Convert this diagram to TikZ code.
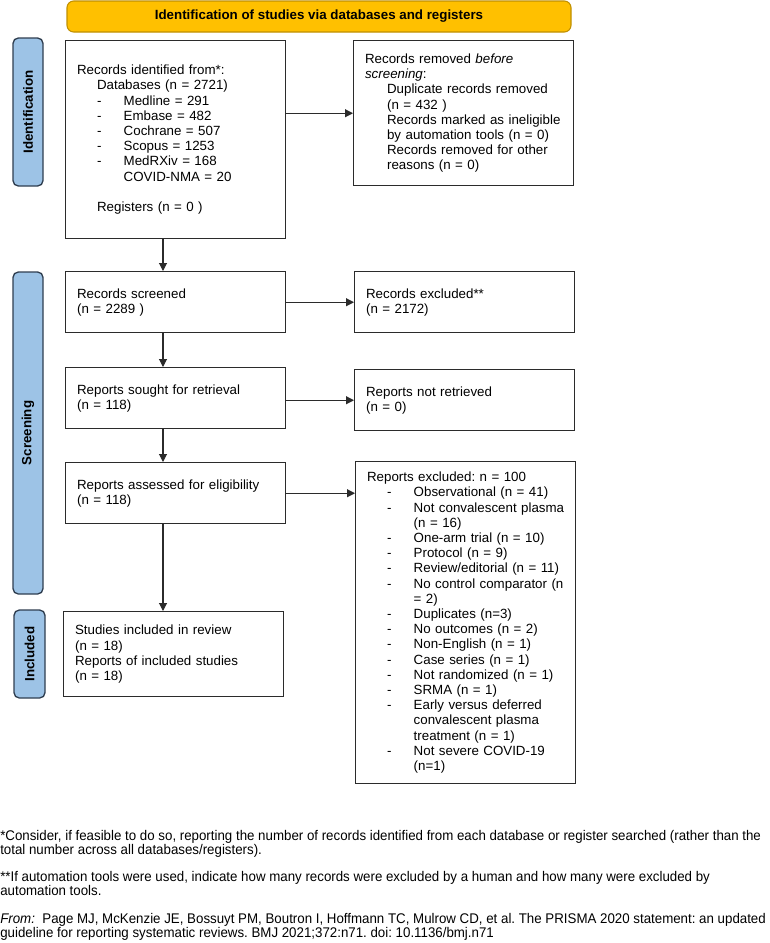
\documentclass[tikz,border=0pt]{standalone}
\usepackage{fontspec}
\setmainfont{Liberation Sans}
\newfontfamily\notefont{Liberation Sans}[FakeStretch=0.95]
\usetikzlibrary{arrows.meta}
\frenchspacing

\definecolor{bannerfill}{HTML}{FFC000}
\definecolor{bannerline}{HTML}{C08F00}
\definecolor{phasefill}{HTML}{9DC3E6}
\definecolor{phaseline}{HTML}{2F3E50}
\definecolor{boxline}{HTML}{2B2B2B}

% list lines inside the boxes
\newcommand{\dashitem}[2][15pt]{\hspace*{#1}\makebox[20pt][l]{-}#2}
\newcommand{\dashcont}[2][35pt]{\hspace*{#1}#2}

\begin{document}
\begin{tikzpicture}[x=0.75pt, y=-0.75pt,
  every node/.style={font=\fontsize{10}{11.4}\selectfont},
  flowbox/.style={draw=boxline, line width=1.1pt, anchor=north west, minimum width=165pt,
    text width=148pt, inner xsep=8.5pt, align=left},
  phase/.style={draw=phaseline, fill=phasefill, line width=1pt, rounded corners=4pt,
    rotate=90, minimum height=22.5pt, font=\fontsize{10}{12}\selectfont\bfseries},
  banner/.style={draw=bannerline, fill=bannerfill, line width=0.8pt, rounded corners=5pt,
    minimum width=378pt, minimum height=23.25pt, font=\fontsize{10}{12}\selectfont\bfseries},
  flow/.style={draw=boxline, line width=0.8pt, -{Triangle[length=6pt,width=6pt]}},
  note/.style={anchor=north west, inner sep=0pt, align=left,
    font=\fontsize{10.5}{10.6}\notefont}]

\useasboundingbox (0,0) rectangle (770,943);

% header
\node[banner] (banner) at (319,16.5) {Identification of studies via databases and registers};

% phases
\node[phase, minimum width=111pt] (phaseid) at (28,112) {Identification};
\node[phase, minimum width=241.5pt] (phasescr) at (28,433) {Screening};
\node[phase, minimum width=66pt, minimum height=23.25pt] (phaseinc) at (29.5,654) {Included};

% identification
\node[flowbox, minimum height=148.5pt] (ident) at (65,40) {Records identified from*:\\
  \hspace*{15pt}Databases (n = 2721)\\
  \dashitem{Medline = 291}\\
  \dashitem{Embase = 482}\\
  \dashitem{Cochrane = 507}\\
  \dashitem{Scopus = 1253}\\
  \dashitem{MedRXiv = 168}\\
  \dashcont{COVID-NMA = 20}\\[11.4pt]
  \hspace*{15pt}Registers (n = 0 )};
\node[flowbox, minimum height=108.75pt] (removed) at (353,40) {Records removed \textit{before}\\
  \textit{screening}:\\
  \dashcont[16.5pt]{Duplicate records removed}\\
  \dashcont[16.5pt]{(n = 432 )}\\
  \dashcont[16.5pt]{Records marked as ineligible}\\
  \dashcont[16.5pt]{by automation tools (n = 0)}\\
  \dashcont[16.5pt]{Records removed for other}\\
  \dashcont[16.5pt]{reasons (n = 0)}};

% screening
\node[flowbox, minimum height=45.75pt] (screened) at (65,271) {Records screened\\(n = 2289 )};
\node[flowbox, minimum height=45.75pt] (excluded) at (354,271) {Records excluded**\\(n = 2172)};
\node[flowbox, minimum height=45.75pt] (sought) at (65,367) {Reports sought for retrieval\\(n = 118)};
\node[flowbox, minimum height=45.75pt] (notret) at (354,369) {Reports not retrieved\\(n = 0)};
\node[flowbox, minimum height=45.75pt] (assessed) at (65,462) {Reports assessed for eligibility\\(n = 118)};
\node[flowbox, minimum height=241.5pt] (repexcl) at (355,461) {Reports excluded: n = 100\\
  \dashitem{Observational (n = 41)}\\
  \dashitem{Not convalescent plasma}\\
  \dashcont{(n = 16)}\\
  \dashitem{One-arm trial (n = 10)}\\
  \dashitem{Protocol (n = 9)}\\
  \dashitem{Review/editorial (n = 11)}\\
  \dashitem{No control comparator (n}\\
  \dashcont{= 2)}\\
  \dashitem{Duplicates (n=3)}\\
  \dashitem{No outcomes (n = 2)}\\
  \dashitem{Non-English (n = 1)}\\
  \dashitem{Case series (n = 1)}\\
  \dashitem{Not randomized (n = 1)}\\
  \dashitem{SRMA (n = 1)}\\
  \dashitem{Early versus deferred}\\
  \dashcont{convalescent plasma}\\
  \dashcont{treatment (n = 1)}\\
  \dashitem{Not severe COVID-19}\\
  \dashcont{(n=1)}};

% included
\node[flowbox, minimum height=63.75pt] (included) at (63,611) {Studies included in review\\
  (n = 18)\\
  Reports of included studies\\
  (n = 18)};

% arrows
\coordinate (spine) at (163,0);
\draw[flow] (ident.east |- removed.west) -- (removed.west);
\draw[flow] (ident.south -| spine) -- (screened.north -| spine);
\draw[flow] (screened.east) -- (excluded.west);
\draw[flow] (screened.south -| spine) -- (sought.north -| spine);
\draw[flow] (sought.east |- notret.west) -- (notret.west);
\draw[flow] (sought.south -| spine) -- (assessed.north -| spine);
\draw[flow] (assessed.east) -- (assessed.east -| repexcl.west);
\draw[flow] (assessed.south -| spine) -- (included.north -| spine);

% footnotes
\node[note] (note1) at (0,830) {*Consider, if feasible to do so, reporting the number of records identified from each database or register searched (rather than the\\
  total number across all databases/registers).};
\node[note] (note2) at (0,871) {**If automation tools were used, indicate how many records were excluded by a human and how many were excluded by\\
  automation tools.};
\node[note] (note3) at (0,913) {\textit{From:}\ \ Page MJ, McKenzie JE, Bossuyt PM, Boutron I, Hoffmann TC, Mulrow CD, et al. The PRISMA 2020 statement: an updated\\
  guideline for reporting systematic reviews. BMJ 2021;372:n71. doi: 10.1136/bmj.n71};

\end{tikzpicture}
\end{document}
